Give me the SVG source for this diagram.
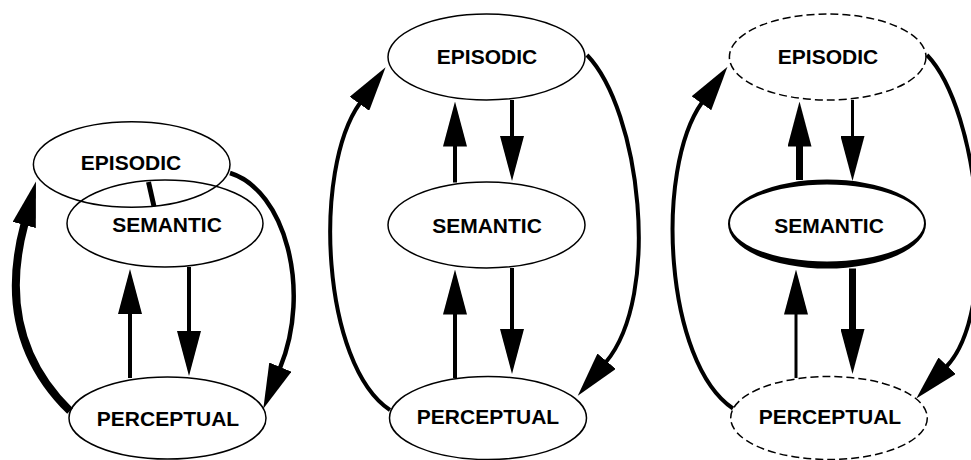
<svg xmlns="http://www.w3.org/2000/svg" width="971" height="460" viewBox="0 0 971 460">
<style>
.n{fill:none;stroke:#000;stroke-width:1.5}
.d{fill:none;stroke:#000;stroke-width:1.5;stroke-dasharray:8 4}
.t{font-family:"Liberation Sans",Arial,sans-serif;font-weight:bold;font-size:21px;text-anchor:middle;fill:#000}
.c{fill:none;stroke:#000;stroke-linecap:butt}
</style>
<defs>
<marker id="ah" viewBox="0 0 45 24" refX="1" refY="12" markerWidth="45" markerHeight="24" markerUnits="userSpaceOnUse" orient="auto">
<path d="M0,0 L45,12 L0,24 Z" fill="#000"/>
</marker>
</defs>
<rect width="971" height="460" fill="#fff"/>
<g id="p1-episodic"><ellipse class="n" cx="131.7" cy="164.5" rx="98.3" ry="42.7"/><text class="t" x="131" y="170">EPISODIC</text></g>
<g id="p1-semantic"><ellipse class="n" cx="165" cy="223.5" rx="98" ry="43.5"/><text class="t" x="167" y="232">SEMANTIC</text></g>
<g id="p1-perceptual"><ellipse class="n" cx="167.5" cy="418" rx="98.5" ry="41"/><text class="t" x="168" y="426">PERCEPTUAL</text></g>
<g id="p2-episodic"><ellipse class="n" cx="486.5" cy="57" rx="98.5" ry="43"/><text class="t" x="487" y="63.5">EPISODIC</text></g>
<g id="p2-semantic"><ellipse class="n" cx="486.5" cy="225" rx="98.5" ry="43"/><text class="t" x="487" y="232.5">SEMANTIC</text></g>
<g id="p2-perceptual"><ellipse class="n" cx="488" cy="418" rx="98.5" ry="41.5"/><text class="t" x="488" y="424">PERCEPTUAL</text></g>
<g id="p3-episodic"><ellipse class="d" cx="827.7" cy="57" rx="98.3" ry="43"/><text class="t" x="828" y="63.5">EPISODIC</text></g>
<g id="p3-semantic"><path fill="#000" fill-rule="evenodd" d="M728,224 a99,44.5 0 1,0 198,0 a99,44.5 0 1,0 -198,0 Z M730,223 a97,38.5 0 1,0 194,0 a97,38.5 0 1,0 -194,0 Z"/><text class="t" x="829" y="232.5">SEMANTIC</text></g>
<g id="p3-perceptual"><ellipse class="d" cx="829" cy="418" rx="98.3" ry="41.5"/><text class="t" x="830" y="424">PERCEPTUAL</text></g>
<g id="connectors">
<line class="c" x1="148.5" y1="182" x2="154" y2="206.5" stroke-width="5"/>
<path class="c" d="M70,411 C20,362 4,300 24.5,224" stroke-width="8" marker-end="url(#ah)"/>
<path class="c" d="M230,173 C285,190 312,290 280,368" stroke-width="4.5" marker-end="url(#ah)"/>
<path class="c" d="M130,378 L130,313" stroke-width="4" marker-end="url(#ah)"/>
<path class="c" d="M189,267 L189,332" stroke-width="4" marker-end="url(#ah)"/>
<path class="c" d="M390,410 C322,365 312,170 360,103" stroke-width="4" marker-end="url(#ah)"/>
<path class="c" d="M587,55 C640,110 662,295 606,362" stroke-width="4" marker-end="url(#ah)"/>
<path class="c" d="M455,182.5 L455,145.5" stroke-width="4" marker-end="url(#ah)"/>
<path class="c" d="M512,100 L512,137" stroke-width="4" marker-end="url(#ah)"/>
<path class="c" d="M455,378 L455,313.5" stroke-width="4" marker-end="url(#ah)"/>
<path class="c" d="M512,268 L512,330" stroke-width="4" marker-end="url(#ah)"/>
<path class="c" d="M733,408.5 C665,363 654,170 702,102.5" stroke-width="4" marker-end="url(#ah)"/>
<path class="c" d="M927,55 C980,110 1000,310 946.5,366.5" stroke-width="4" marker-end="url(#ah)"/>
<path class="c" d="M799.5,180 L799.5,145.5" stroke-width="7" marker-end="url(#ah)"/>
<path class="c" d="M852.5,100 L852.5,137" stroke-width="3" marker-end="url(#ah)"/>
<path class="c" d="M796,378 L796,313.5" stroke-width="3" marker-end="url(#ah)"/>
<path class="c" d="M852.5,268.5 L852.5,330" stroke-width="7" marker-end="url(#ah)"/>
</g>
</svg>
